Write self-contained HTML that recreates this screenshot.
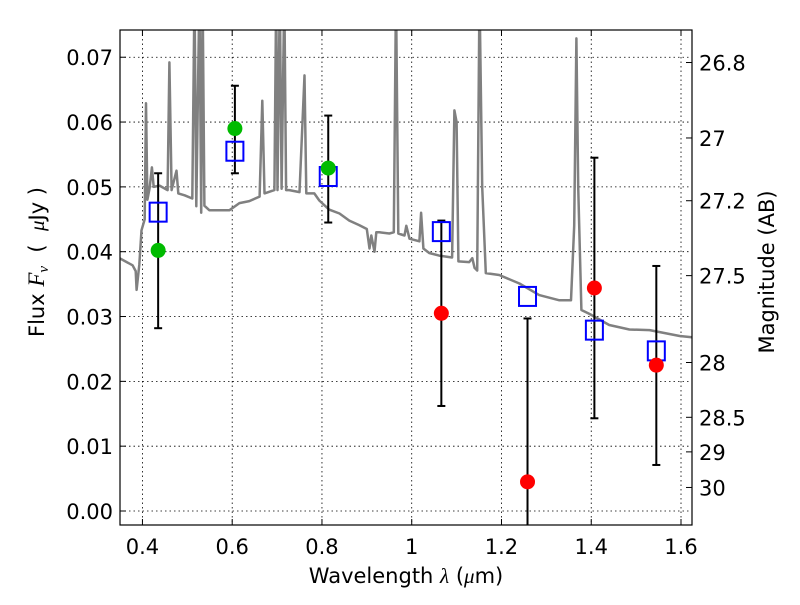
<!DOCTYPE html>
<html><head><meta charset="utf-8"><style>
body{margin:0;background:#fff}
svg text{font-family:"DejaVu Sans","Liberation Sans",sans-serif;font-size:21px;fill:#000}
</style></head><body>
<svg id="chart" width="800" height="600" xmlns="http://www.w3.org/2000/svg"></svg>
<script>
const specX=[0.349,0.378,0.385,0.387,0.393,0.398,0.405,0.408,0.411,0.416,0.421,0.425,0.438,0.456,0.460,0.465,0.476,0.480,0.494,0.511,0.516,0.520,0.527,0.531,0.534,0.538,0.549,0.594,0.616,0.638,0.661,0.667,0.672,0.694,0.698,0.701,0.706,0.710,0.716,0.720,0.727,0.750,0.761,0.765,0.783,0.794,0.816,0.839,0.861,0.883,0.900,0.906,0.910,0.917,0.921,0.928,0.950,0.960,0.965,0.970,0.984,0.988,0.995,1.017,1.021,1.026,1.039,1.061,1.090,1.095,1.100,1.104,1.128,1.135,1.140,1.146,1.151,1.157,1.165,1.195,1.240,1.284,1.329,1.355,1.362,1.367,1.371,1.378,1.396,1.440,1.485,1.530,1.597,1.624];
const specY=[0.0390,0.0379,0.0370,0.0341,0.0380,0.0433,0.0450,0.0629,0.0480,0.0498,0.0530,0.0500,0.0502,0.0495,0.0692,0.0495,0.0525,0.0490,0.0487,0.0482,0.08,0.0470,0.08,0.0460,0.08,0.0471,0.0464,0.0464,0.0475,0.0478,0.0485,0.0633,0.0490,0.0495,0.08,0.0495,0.08,0.0497,0.08,0.0495,0.0495,0.0492,0.0672,0.0490,0.0490,0.0479,0.0465,0.0459,0.0448,0.0441,0.0435,0.0405,0.0425,0.0400,0.0430,0.0430,0.0428,0.0430,0.08,0.0428,0.0425,0.0440,0.0420,0.0416,0.0460,0.0405,0.0398,0.0394,0.0391,0.0618,0.0600,0.0385,0.0384,0.0390,0.0375,0.0371,0.08,0.0500,0.0367,0.0364,0.0351,0.0333,0.0325,0.0325,0.0440,0.0729,0.0500,0.0310,0.0304,0.0287,0.0280,0.0279,0.0270,0.0268];
const bandX=[0.435,0.606,0.814,1.066,1.258,1.407,1.545];
const modelFlux=[0.0461,0.0555,0.0516,0.0431,0.0331,0.0279,0.0247];
const obsFlux=[0.0402,0.0590,0.0529,0.0305,0.0045,0.0344,0.0225];
const obsColor=["#00bb00","#00bb00","#00bb00","#ff0000","#ff0000","#ff0000","#ff0000"];
const errHi=[0.0521,0.0656,0.0610,0.0448,0.0297,0.0545,0.0378];
const errLo=[0.0282,0.0521,0.0445,0.0162,-0.005,0.0143,0.0071];
const xTicks=[0.4,0.6,0.8,1.0,1.2,1.4,1.6];
const xTickLabels=["0.4","0.6","0.8","1","1.2","1.4","1.6"];
const yTicks=[0,0.01,0.02,0.03,0.04,0.05,0.06,0.07];
const yTickLabels=["0.00","0.01","0.02","0.03","0.04","0.05","0.06","0.07"];
const magTicks=[26.8,27,27.2,27.5,28,28.5,29,30];
const magLabels=["26.8","27","27.2","27.5","28","28.5","29","30"];

const L=120,R=692,T=30,B=525;
const X0=0.35,X1=1.6245,Y0=-0.00216,Y1=0.0742;
const sx=v=>L+(v-X0)/(X1-X0)*(R-L);
const sy=v=>B-(v-Y0)/(Y1-Y0)*(B-T);
const svg=document.getElementById('chart');
const NS="http://www.w3.org/2000/svg";
function mk(tag,attrs,parent){const e=document.createElementNS(NS,tag);for(const k in attrs)e.setAttribute(k,attrs[k]);(parent||svg).appendChild(e);return e;}
const defs=mk('defs',{});const cp=mk('clipPath',{id:'clip'},defs);mk('rect',{x:L,y:T,width:R-L,height:B-T},cp);

xTicks.forEach((v,i)=>{
  const g=mk('line',{x1:sx(v),x2:sx(v),y1:T,y2:B,stroke:'#000','stroke-width':0.8,'stroke-dasharray':'1.5,3'});
  
  
  mk('line',{x1:sx(v),x2:sx(v),y1:B,y2:B-6,stroke:'#000'});
  mk('line',{x1:sx(v),x2:sx(v),y1:T,y2:T+6,stroke:'#000'});
  const t=mk('text',{x:sx(v),y:B+29,'text-anchor':'middle'});t.textContent=xTickLabels[i];
  
  
});
yTicks.forEach((v,i)=>{
  const g=mk('line',{x1:L,x2:R,y1:sy(v),y2:sy(v),stroke:'#000','stroke-width':0.8,'stroke-dasharray':'1.5,3'});
  
  
  mk('line',{x1:L,x2:L+6,y1:sy(v),y2:sy(v),stroke:'#000'});
  const t=mk('text',{x:L-7,y:sy(v)+8,'text-anchor':'end'});t.textContent=yTickLabels[i];
  
  
});
magTicks.forEach((m,i)=>{
  const f=Math.pow(10,-(m-23.9)/2.5);
  const y=sy(f);
  mk('line',{x1:R-6,x2:R,y1:y,y2:y,stroke:'#000'});
  const t=mk('text',{x:R+7,y:y+8});t.textContent=magLabels[i];
  
  
});

const g=mk('g',{'clip-path':'url(#clip)'});
const d=specX.map((x,i)=>(i?'L':'M')+sx(x).toFixed(1)+','+sy(specY[i]).toFixed(1)).join('');
const sp=mk('path',{d:d,fill:'none',stroke:'#808080','stroke-width':2.5,'stroke-linejoin':'round'},g);



bandX.forEach((x,i)=>{
  const e=mk('g',{},g);
  
  
  const X=sx(x);
  mk('line',{x1:X,x2:X,y1:sy(errHi[i]),y2:sy(errLo[i]),stroke:'#000','stroke-width':2},e);
  mk('line',{x1:X-4,x2:X+4,y1:sy(errHi[i]),y2:sy(errHi[i]),stroke:'#000','stroke-width':2},e);
  mk('line',{x1:X-4,x2:X+4,y1:sy(errLo[i]),y2:sy(errLo[i]),stroke:'#000','stroke-width':2},e);
});
bandX.forEach((x,i)=>{
  const r=mk('rect',{x:sx(x)-8.5,y:sy(modelFlux[i])-9.5,width:17,height:19,fill:'none',stroke:'#0000ff','stroke-width':2},g);
  
  
});
bandX.forEach((x,i)=>{
  const c=mk('circle',{cx:sx(x),cy:sy(obsFlux[i]),r:7.5,fill:obsColor[i]},g);
  
  
});

const fr=mk('rect',{x:L,y:T,width:R-L,height:B-T,fill:'none',stroke:'#000','stroke-width':1.2});



const xt=mk('text',{x:406,y:583,'text-anchor':'middle'});
xt.innerHTML='Wavelength  <tspan font-style="italic" font-family="Liberation Serif,serif">λ</tspan> (<tspan font-style="italic" font-family="Liberation Serif,serif">μ</tspan>m)';


const yt=mk('text',{x:0,y:0,'text-anchor':'middle',transform:'translate(44,262) rotate(-90)'});
yt.innerHTML='Flux  <tspan font-style="italic" font-family="Liberation Serif,serif" font-size="23">F<tspan font-size="15" dy="4">ν</tspan></tspan><tspan dy="-4" xml:space="preserve">  (  </tspan><tspan font-style="italic" font-family="Liberation Serif,serif">μ</tspan>Jy )';


const rt=mk('text',{x:0,y:0,'text-anchor':'middle',transform:'translate(774,272) rotate(-90)'});
rt.textContent='Magnitude (AB)';


</script>
</body></html>
